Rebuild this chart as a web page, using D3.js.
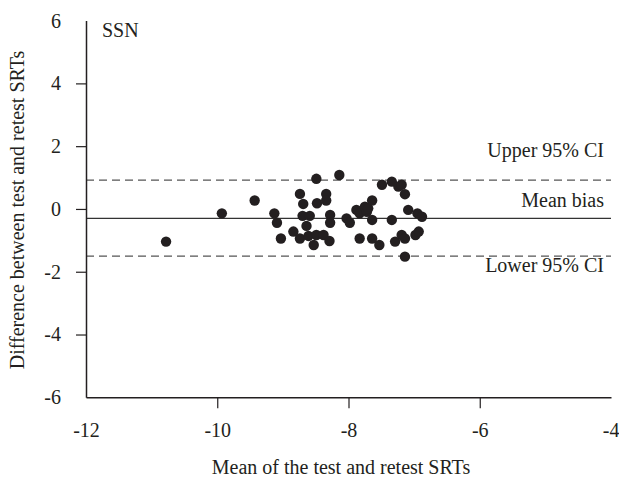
<!DOCTYPE html>
<html>
<head>
<meta charset="utf-8">
<script src="https://cdn.jsdelivr.net/npm/d3@7"></script>
<style>
  body { margin: 0; background: #fff; }
  svg text { font-family: "Liberation Serif", "Times New Roman", serif; fill: #231f20; }
</style>
</head>
<body>
<div id="chart"></div>
<script>
// Bland-Altman data (mean of test/retest vs difference)
const meanSRT = [-10.78, -9.93, -9.43, -9.13, -9.09, -9.03, -8.84, -8.74, -8.69, -8.74,
  -8.70, -8.59, -8.64, -8.61, -8.49, -8.38, -8.53, -8.49, -8.48, -8.34,
  -8.34, -8.28, -8.28, -8.29, -8.14, -8.03, -7.98, -7.88, -7.83, -7.75,
  -7.72, -7.70, -7.64, -7.64, -7.83, -7.64, -7.53, -7.49, -7.34, -7.24,
  -7.19, -7.14, -7.34, -7.29, -7.19, -7.14, -7.09, -6.98, -6.93, -6.95,
  -6.88, -7.14];
const diffSRT = [-1.04, -0.14, 0.27, -0.14, -0.44, -0.94, -0.72, 0.48, 0.16, -0.94,
  -0.22, -0.22, -0.54, -0.86, -0.83, -0.83, -1.15, 0.96, 0.18, 0.48,
  0.27, -0.19, -0.44, -1.02, 1.08, -0.30, -0.44, -0.03, -0.14, 0.07,
  -0.09, 0.02, 0.27, -0.35, -0.94, -0.94, -1.15, 0.77, 0.87, 0.71,
  0.77, 0.47, -0.35, -1.04, -0.83, -0.94, -0.03, -0.83, -0.72, -0.14,
  -0.25, -1.52];

const meanBias = -0.30;
const upperCI = 0.92;
const lowerCI = -1.50;

const xTicks = [-12, -10, -8, -6, -4];
const yTicks = [-6, -4, -2, 0, 2, 4, 6];

const width = 619, height = 484;
const plotLeft = 86, plotRight = 611, plotTop = 20.6, plotBottom = 397.3;
const fontSize = 20;

const svg = d3.select("#chart").append("svg")
    .attr("width", width)
    .attr("height", height);

const x = d3.scaleLinear().domain([-12, -4]).range([plotLeft, plotRight]);
const y = d3.scaleLinear().domain([-6, 6]).range([plotBottom, plotTop]);

// reference lines
svg.append("line")
    .attr("x1", plotLeft).attr("x2", plotRight)
    .attr("y1", y(upperCI)).attr("y2", y(upperCI))
    .attr("stroke", "#555").attr("stroke-width", 1.3)
    .attr("stroke-dasharray", "8,5");
svg.append("line")
    .attr("x1", plotLeft).attr("x2", plotRight)
    .attr("y1", y(lowerCI)).attr("y2", y(lowerCI))
    .attr("stroke", "#555").attr("stroke-width", 1.3)
    .attr("stroke-dasharray", "8,5");
svg.append("line")
    .attr("x1", plotLeft).attr("x2", plotRight)
    .attr("y1", y(meanBias)).attr("y2", y(meanBias))
    .attr("stroke", "#333").attr("stroke-width", 1.3);

// line labels
svg.append("text").attr("x", 604).attr("y", y(upperCI) - 23)
    .attr("text-anchor", "end").attr("font-size", fontSize).text("Upper 95% CI");
svg.append("text").attr("x", 604).attr("y", y(meanBias) - 11)
    .attr("text-anchor", "end").attr("font-size", fontSize).text("Mean bias");
svg.append("text").attr("x", 604).attr("y", y(lowerCI) + 16)
    .attr("text-anchor", "end").attr("font-size", fontSize).text("Lower 95% CI");

// points
svg.selectAll("circle.pt")
    .data(meanSRT.map((m, i) => ({ m: m, d: diffSRT[i] })))
    .enter().append("circle")
    .attr("class", "pt")
    .attr("cx", d => x(d.m))
    .attr("cy", d => y(d.d))
    .attr("r", 5.2)
    .attr("fill", "#231f20");

// axes (plain hyphen for minus, like the original)
const fmt = d => String(d);
const xAxis = svg.append("g")
    .attr("transform", `translate(0,${plotBottom})`)
    .call(d3.axisBottom(x).tickValues(xTicks).tickFormat(fmt)
        .tickSize(11).tickSizeOuter(0).tickPadding(15));
const yAxis = svg.append("g")
    .attr("transform", `translate(${plotLeft},0)`)
    .call(d3.axisLeft(y).tickValues(yTicks).tickFormat(fmt)
        .tickSize(10).tickSizeOuter(0).tickPadding(15));

[xAxis, yAxis].forEach(g => {
    g.select(".domain").attr("stroke", "#231f20").attr("stroke-width", 1.5);
    g.selectAll(".tick line").attr("stroke", "#231f20").attr("stroke-width", 1.2);
    g.selectAll(".tick text").attr("font-size", fontSize)
        .attr("font-family", "Liberation Serif, Times New Roman, serif")
        .attr("fill", "#231f20");
});
// no tick marks at the axis ends
xAxis.selectAll(".tick").filter(d => d === -12 || d === -4).select("line").remove();
yAxis.selectAll(".tick").filter(d => d === -6 || d === 6).select("line").remove();
// keep the last x label inside the window
xAxis.selectAll(".tick").filter(d => d === -4).select("text")
    .attr("text-anchor", "end").attr("x", 8);

// panel label
svg.append("text").attr("x", 102).attr("y", 37).attr("font-size", fontSize).text("SSN");

// axis titles
svg.append("text")
    .attr("x", 341).attr("y", 474)
    .attr("text-anchor", "middle").attr("font-size", fontSize)
    .text("Mean of the test and retest SRTs");
svg.append("text")
    .attr("transform", "translate(24,210) rotate(-90)")
    .attr("text-anchor", "middle").attr("font-size", fontSize)
    .text("Difference between test and retest SRTs");
</script>
</body>
</html>
